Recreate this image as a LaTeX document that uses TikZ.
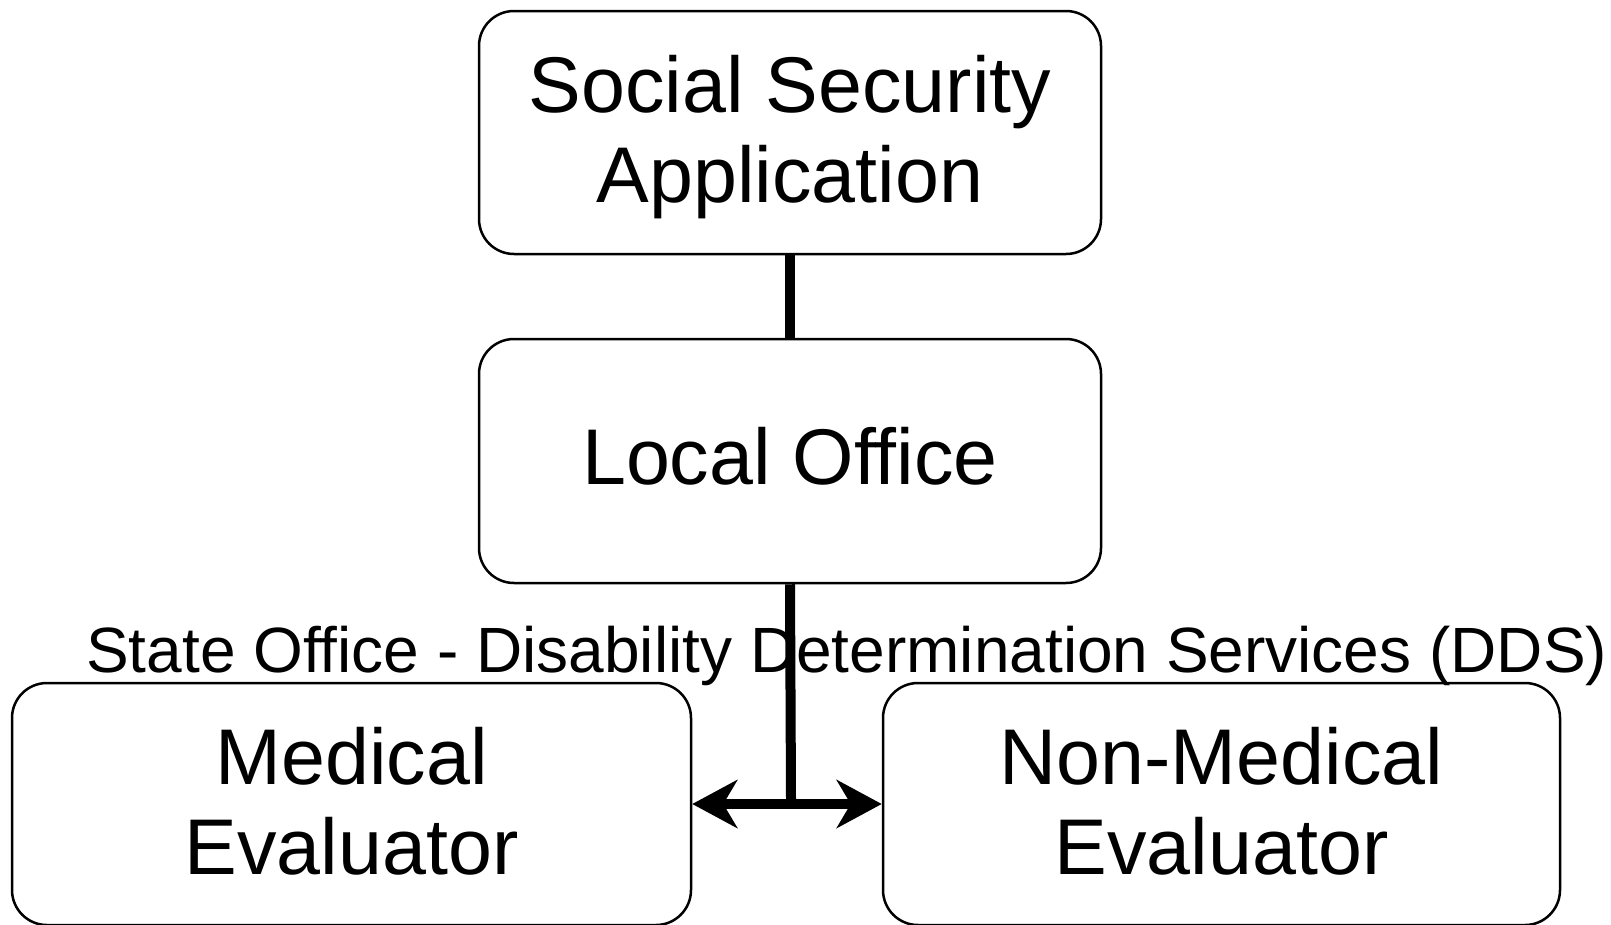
\documentclass[tikz,border=0pt]{standalone}
\usepackage{fontspec}
\setmainfont{Liberation Sans}
\usetikzlibrary{arrows.meta}
\tikzset{
  boxnode/.style={draw=black, line width=2.5pt, rounded corners=35pt, inner sep=0pt,
    align=center, font=\fontsize{79}{90}\selectfont},
  conn/.style={line width=10pt, line cap=butt},
  arr/.style={line width=10pt, -{Stealth[length=45pt,width=48pt,inset=14pt]}}
}
\begin{document}
\begin{tikzpicture}[x=1pt,y=-1pt]
\useasboundingbox (0,0) rectangle (1611,924);
\node[boxnode, minimum width=622pt, minimum height=243pt] (top) at (790,132.5) {\rule{0pt}{67pt}Social Security\\Application};
\node[boxnode, minimum width=622pt, minimum height=244pt] (local) at (790,461) {Local Office\rule[-10pt]{0pt}{10pt}};
\node[boxnode, minimum width=679pt, minimum height=242pt] (med) at (351.5,804) {Medical\\Evaluator\rule[-6pt]{0pt}{6pt}};
\node[boxnode, minimum width=677pt, minimum height=242pt] (nonmed) at (1221.5,804) {Non-Medical\\Evaluator\rule[-6pt]{0pt}{6pt}};
\node[anchor=base west, inner sep=0pt, font=\fontsize{64}{70}\selectfont] (state) at (86,672) {State Office - Disability Determination Services (DDS)};
\coordinate (j) at (791,804);
\draw[conn] (top.south) -- (local.north);
\draw[conn] (local.south) -- ([yshift=5pt]j);
\draw[arr] (j) -- (med.east |- j);
\draw[arr] (j) -- (nonmed.west |- j);
\end{tikzpicture}
\end{document}
